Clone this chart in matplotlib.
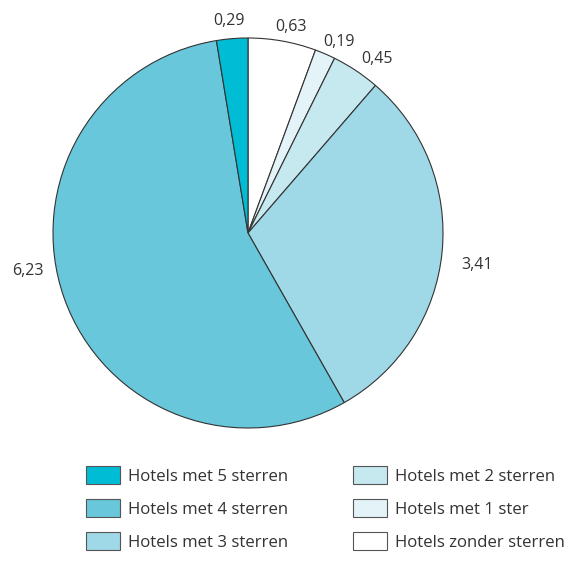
import numpy as np
import matplotlib.pyplot as plt
from matplotlib.patches import Patch

plt.rcParams['font.family'] = ['Open Sans', 'DejaVu Sans']

# Data (clockwise from the top)
categories = ['Hotels zonder sterren', 'Hotels met 1 ster', 'Hotels met 2 sterren',
              'Hotels met 3 sterren', 'Hotels met 4 sterren', 'Hotels met 5 sterren']
values = [0.63, 0.19, 0.45, 3.41, 6.23, 0.29]
value_labels = ['0,63', '0,19', '0,45', '3,41', '6,23', '0,29']
colors = ['#ffffff', '#e3f3f7', '#c6e8ef', '#9fd8e6', '#68c7da', '#00bcd4']
# small pixel nudges for the value labels (x right, y up)
nudges = [(5, -7), (5, -8), (9, -6), (4, -11), (-6, 32), (-1, -4)]

legend_order = ['Hotels met 5 sterren', 'Hotels met 4 sterren', 'Hotels met 3 sterren',
                'Hotels met 2 sterren', 'Hotels met 1 ster', 'Hotels zonder sterren']

fig = plt.figure(figsize=(5.73, 5.62), dpi=100)
W, H = 573, 562
cx, cy, r = 248, 233, 195
ax = fig.add_axes([(cx - r) / W, (H - cy - r) / H, 2 * r / W, 2 * r / H])

wedges, _ = ax.pie(values, colors=colors, startangle=90, counterclock=False,
                   wedgeprops=dict(edgecolor='#333333', linewidth=0.8))
ax.set_aspect('equal')
ax.set_xlim(-1, 1)
ax.set_ylim(-1, 1)

# value labels around the pie
for w, lab, nd in zip(wedges, value_labels, nudges):
    ang = np.deg2rad((w.theta1 + w.theta2) / 2)
    x, y = np.cos(ang), np.sin(ang)
    if abs(w.theta2 - w.theta1) > 60:
        ax.annotate(lab, (1.08 * x, 1.08 * y), xytext=nd, textcoords='offset pixels',
                    ha='left' if x > 0 else 'right', va='center',
                    fontsize=11.5, color='#333333', annotation_clip=False)
    else:
        ax.annotate(lab, (1.11 * x, 1.11 * y), xytext=nd, textcoords='offset pixels',
                    ha='center', va='center',
                    fontsize=11.5, color='#333333', annotation_clip=False)

# legend
col = dict(zip(categories, colors))
handles = [Patch(facecolor=col[c], edgecolor='#555555', linewidth=0.8) for c in legend_order]
fig.legend(handles, legend_order, ncol=2, loc='upper left',
           bbox_to_anchor=(86 / W, 1 - 466 / H), frameon=False,
           borderpad=0, borderaxespad=0,
           fontsize=12.1, labelcolor='#333333',
           handlelength=2.05, handleheight=1.3, handletextpad=0.45,
           labelspacing=0.85, columnspacing=3.85)

fig.savefig('out.png', dpi=100)
